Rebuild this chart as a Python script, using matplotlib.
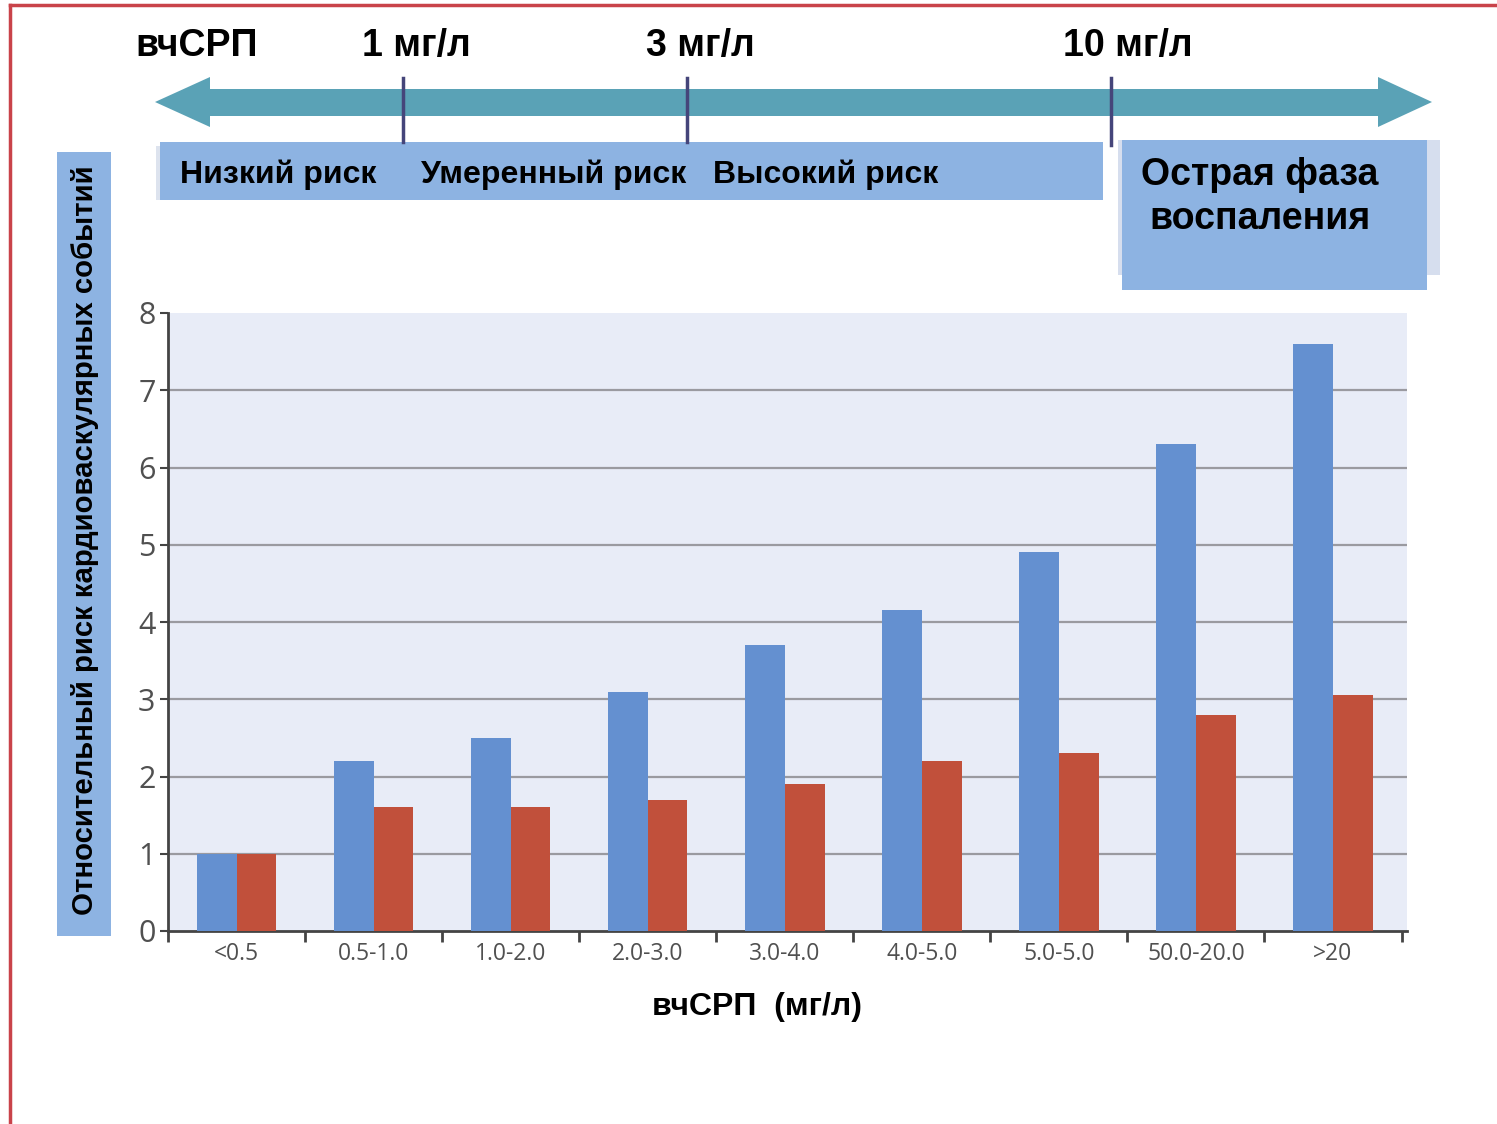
import matplotlib
matplotlib.use("Agg")
import numpy as np
import matplotlib.pyplot as plt
from matplotlib.patches import Rectangle, Polygon

# data
categories = ["<0.5", "0.5-1.0", "1.0-2.0", "2.0-3.0", "3.0-4.0",
              "4.0-5.0", "5.0-5.0", "50.0-20.0", ">20"]
blue_vals = [1.0, 2.2, 2.5, 3.1, 3.7, 4.15, 4.9, 6.3, 7.6]
red_vals = [1.0, 1.6, 1.6, 1.7, 1.9, 2.2, 2.3, 2.8, 3.05]
y_ticks = [0, 1, 2, 3, 4, 5, 6, 7, 8]

thresholds = ["1 мг/л", "3 мг/л", "10 мг/л"]
risk_labels = ["Низкий риск", "Умеренный риск", "Высокий риск"]

BLUE = "#6490d0"
RED = "#c1503b"
BOX = "#8db3e2"
TEAL = "#5aa2b6"
BOLD = "Liberation Sans"

W, H = 1497, 1124
fig = plt.figure(figsize=(W / 100, H / 100), dpi=100)

# overlay in pixel coordinates for the decorations
deco = fig.add_axes([0, 0, 1, 1], zorder=0)
deco.set_xlim(0, W)
deco.set_ylim(H, 0)
deco.axis("off")

# page frame (red on left and top)
deco.plot([10, 10], [5, H], color="#c9434a", lw=2.5)
deco.plot([10, W], [5, 5], color="#c9434a", lw=2.5)

# double arrow
arrow = Polygon([[155, 102], [210, 77], [210, 89], [1378, 89], [1378, 77],
                 [1432, 102], [1378, 127], [1378, 116], [210, 116], [210, 127]],
                closed=True, color=TEAL, lw=0)
deco.add_patch(arrow)

# risk band + acute phase box
deco.add_patch(Rectangle((156, 146), 947, 54, color="#dde3ee", lw=0))
deco.add_patch(Rectangle((160, 142), 943, 58, color=BOX, lw=0))
deco.add_patch(Rectangle((1118, 140), 322, 135, color="#d6deee", lw=0))
deco.add_patch(Rectangle((1122, 140), 305, 150, color=BOX, lw=0))

# threshold markers
for xv, ye in zip([403, 687, 1111], [142, 142, 145]):
    deco.plot([xv, xv], [78, ye], color="#45457a", lw=2.5)

deco.text(197, 46, "вчСРП", ha="center", va="center", fontsize=27,
          fontweight="bold", family=BOLD)
for xv, lab in zip([416, 700, 1128], thresholds):
    deco.text(xv, 46, lab, ha="center", va="center", fontsize=27,
              fontweight="bold", family=BOLD)

for xv, lab in zip([180, 421, 713], risk_labels):
    deco.text(xv, 175, lab, ha="left", va="center", fontsize=23,
              fontweight="bold", family=BOLD)

deco.text(1260, 197, "Острая фаза\nвоспаления", ha="center", va="center",
          fontsize=27, fontweight="bold", family=BOLD, linespacing=1.3)

# y label box
deco.add_patch(Rectangle((57, 152), 54, 784, color=BOX, lw=0))
deco.text(85, 540, "Относительный риск кардиоваскулярных событий",
          rotation=90, ha="center", va="center", fontsize=21.2,
          fontweight="bold", family=BOLD)

deco.text(757, 1007, "вчСРП  (мг/л)", ha="center", va="center", fontsize=23,
          fontweight="bold", family=BOLD)

# bar chart
ax = fig.add_axes([168 / W, 1 - 931 / H, (1407 - 168) / W, (931 - 313) / H],
                  zorder=1)
ax.set_facecolor("#e8ecf7")
x = np.arange(len(categories))
bw = 0.29
ax.bar(x - bw / 2, blue_vals, bw, color=BLUE, zorder=3)
ax.bar(x + bw / 2, red_vals, bw, color=RED, zorder=3)

ax.set_xlim(-0.5, 8.54)
ax.set_ylim(0, 8)
ax.set_yticks(y_ticks)
ax.set_yticklabels([str(v) for v in y_ticks], fontsize=22, color="#505050",
                   family="Open Sans")
for v in y_ticks[1:-1]:
    ax.axhline(v, color="#9a9aa0", lw=1.6, zorder=1)

ax.set_xticks(np.arange(len(categories) + 1) - 0.5)
ax.set_xticklabels([])
ax.set_xticks(x, minor=True)
ax.set_xticklabels(categories, minor=True, fontsize=16.5, color="#505050",
                   family="Open Sans")
ax.tick_params(axis="x", which="minor", length=0, pad=8)
ax.tick_params(axis="x", which="major", length=8, width=2, color="#444444",
               direction="out")
ax.tick_params(axis="y", length=6, width=1.5, color="#444444", pad=3)

for s in ["top", "right"]:
    ax.spines[s].set_visible(False)
ax.spines["left"].set_color("#444444")
ax.spines["left"].set_linewidth(2)
ax.spines["bottom"].set_color("#444444")
ax.spines["bottom"].set_linewidth(2)

fig.savefig("out.png", dpi=100)
